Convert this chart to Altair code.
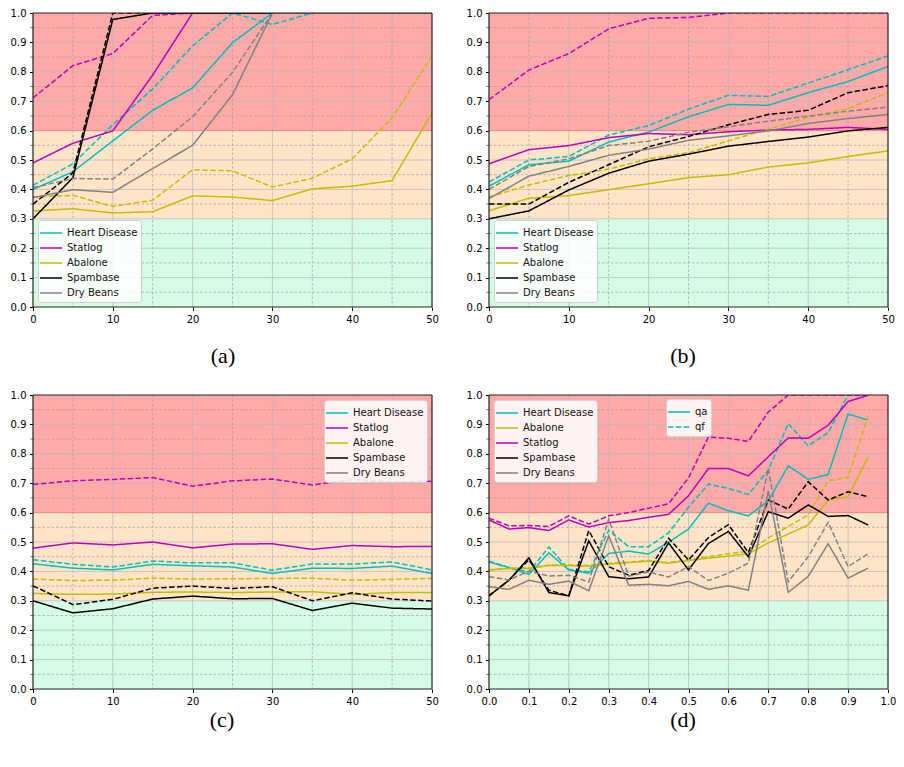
import altair as alt
import pandas as pd

W, H = 399, 294

NAMES = ["Heart Disease", "Statlog", "Abalone", "Spambase", "Dry Beans"]
COLORS = {"Heart Disease": "#00bfbf", "Statlog": "#bf00bf", "Abalone": "#bfbf00",
          "Spambase": "#000000", "Dry Beans": "#808080"}
ORDER_D = ["Heart Disease", "Abalone", "Statlog", "Spambase", "Dry Beans"]

X_ABC = [0, 5, 10, 15, 20, 25, 30, 35, 40, 45, 50]
X_D = [0.0, 0.05, 0.1, 0.15, 0.2, 0.25, 0.3, 0.35, 0.4, 0.45, 0.5,
       0.55, 0.6, 0.65, 0.7, 0.75, 0.8, 0.85, 0.9, 0.95]

# panel (a)
a_hd_qa = [0.400, 0.460, 0.565, 0.669, 0.745, 0.899, 1.0, 1.0, 1.0, 1.0, 1.0]
a_hd_qf = [0.414, 0.487, 0.620, 0.742, 0.888, 1.0, 0.961, 1.0, 1.0, 1.0, 1.0]
a_st_qa = [0.490, 0.557, 0.599, 0.789, 1.0, 1.0, 1.0, 1.0, 1.0, 1.0, 1.0]
a_st_qf = [0.711, 0.821, 0.862, 0.992, 1.0, 1.0, 1.0, 1.0, 1.0, 1.0, 1.0]
a_ab_qa = [0.327, 0.334, 0.320, 0.324, 0.378, 0.374, 0.362, 0.402, 0.411, 0.430, 0.660]
a_ab_qf = [0.374, 0.380, 0.342, 0.363, 0.467, 0.463, 0.408, 0.438, 0.504, 0.643, 0.854]
a_sp_qa = [0.300, 0.440, 0.978, 1.0, 1.0, 1.0, 1.0, 1.0, 1.0, 1.0, 1.0]
a_sp_qf = [0.350, 0.456, 1.0, 1.0, 1.0, 1.0, 1.0, 1.0, 1.0, 1.0, 1.0]
a_db_qa = [0.372, 0.399, 0.390, 0.471, 0.550, 0.722, 1.0, 1.0, 1.0, 1.0, 1.0]
a_db_qf = [0.406, 0.437, 0.435, 0.538, 0.647, 0.798, 1.0, 1.0, 1.0, 1.0, 1.0]

# panel (b)
b_hd_qa = [0.411, 0.484, 0.496, 0.561, 0.595, 0.647, 0.689, 0.686, 0.729, 0.767, 0.818]
b_hd_qf = [0.425, 0.500, 0.512, 0.585, 0.617, 0.673, 0.720, 0.716, 0.762, 0.807, 0.854]
b_st_qa = [0.487, 0.535, 0.549, 0.576, 0.590, 0.586, 0.596, 0.602, 0.604, 0.611, 0.604]
b_st_qf = [0.705, 0.806, 0.862, 0.946, 0.982, 0.985, 1.0, 1.0, 1.0, 1.0, 1.0]
b_ab_qa = [0.327, 0.370, 0.379, 0.399, 0.419, 0.440, 0.450, 0.476, 0.490, 0.512, 0.531]
b_ab_qf = [0.374, 0.415, 0.447, 0.469, 0.504, 0.525, 0.565, 0.605, 0.645, 0.675, 0.729]
b_sp_qa = [0.300, 0.327, 0.398, 0.455, 0.496, 0.520, 0.547, 0.563, 0.578, 0.599, 0.611]
b_sp_qf = [0.350, 0.350, 0.424, 0.484, 0.545, 0.580, 0.620, 0.655, 0.669, 0.729, 0.753]
b_db_qa = [0.369, 0.445, 0.478, 0.516, 0.537, 0.567, 0.582, 0.599, 0.624, 0.641, 0.655]
b_db_qf = [0.400, 0.478, 0.504, 0.549, 0.564, 0.594, 0.613, 0.632, 0.649, 0.666, 0.680]

# panel (c)
c_hd_qa = [0.426, 0.411, 0.405, 0.424, 0.419, 0.415, 0.393, 0.411, 0.410, 0.418, 0.393]
c_hd_qf = [0.440, 0.424, 0.415, 0.435, 0.429, 0.429, 0.404, 0.425, 0.425, 0.432, 0.405]
c_st_qa = [0.479, 0.497, 0.490, 0.500, 0.480, 0.493, 0.494, 0.475, 0.488, 0.484, 0.485]
c_st_qf = [0.696, 0.708, 0.713, 0.719, 0.690, 0.708, 0.714, 0.694, 0.712, 0.704, 0.707]
c_ab_qa = [0.325, 0.322, 0.323, 0.329, 0.330, 0.328, 0.330, 0.331, 0.322, 0.328, 0.328]
c_ab_qf = [0.374, 0.369, 0.370, 0.377, 0.374, 0.375, 0.376, 0.377, 0.370, 0.373, 0.376]
c_sp_qa = [0.300, 0.259, 0.273, 0.306, 0.316, 0.307, 0.308, 0.267, 0.292, 0.275, 0.272]
c_sp_qf = [0.351, 0.287, 0.305, 0.343, 0.350, 0.342, 0.348, 0.300, 0.327, 0.306, 0.299]

# panel (d)
d_hd_qa = [0.432, 0.413, 0.390, 0.463, 0.405, 0.394, 0.461, 0.469, 0.459, 0.499, 0.544,
           0.632, 0.606, 0.589, 0.640, 0.759, 0.713, 0.730, 0.935, 0.915]
d_hd_qf = [0.435, 0.413, 0.398, 0.483, 0.407, 0.398, 0.540, 0.484, 0.484, 0.531, 0.618,
           0.697, 0.682, 0.662, 0.744, 0.903, 0.827, 0.872, 1.0, 1.0]
d_st_qa = [0.575, 0.544, 0.549, 0.539, 0.575, 0.551, 0.566, 0.573, 0.584, 0.594, 0.657,
           0.750, 0.750, 0.725, 0.790, 0.854, 0.853, 0.897, 0.978, 0.999]
d_st_qf = [0.581, 0.555, 0.556, 0.553, 0.589, 0.561, 0.589, 0.600, 0.615, 0.630, 0.718,
           0.857, 0.853, 0.842, 0.942, 1.0, 1.0, 1.0, 1.0, 1.0]
d_ab_qa = [0.405, 0.410, 0.410, 0.420, 0.420, 0.418, 0.425, 0.430, 0.435, 0.428, 0.437,
           0.445, 0.452, 0.460, 0.497, 0.527, 0.558, 0.643, 0.654, 0.789]
d_ab_qf = [0.405, 0.410, 0.412, 0.422, 0.422, 0.420, 0.427, 0.432, 0.437, 0.430, 0.440,
           0.450, 0.460, 0.468, 0.514, 0.553, 0.592, 0.708, 0.721, 0.927]
d_sp_qa = [0.317, 0.370, 0.446, 0.328, 0.317, 0.504, 0.382, 0.375, 0.381, 0.497, 0.405,
           0.495, 0.536, 0.450, 0.603, 0.581, 0.626, 0.587, 0.590, 0.558]
d_sp_qf = [0.317, 0.370, 0.440, 0.336, 0.317, 0.539, 0.416, 0.387, 0.403, 0.513, 0.439,
           0.515, 0.559, 0.464, 0.643, 0.612, 0.705, 0.643, 0.671, 0.654]
d_db_qa = [0.348, 0.339, 0.370, 0.356, 0.367, 0.334, 0.521, 0.353, 0.356, 0.351, 0.366,
           0.339, 0.351, 0.336, 0.673, 0.329, 0.383, 0.494, 0.377, 0.411]
d_db_qf = [0.382, 0.371, 0.401, 0.384, 0.387, 0.364, 0.578, 0.384, 0.398, 0.381, 0.416,
           0.369, 0.394, 0.428, 0.750, 0.365, 0.450, 0.567, 0.416, 0.460]

BAND_LO = [0.0, 0.3, 0.6]
BAND_HI = [0.3, 0.6, 1.0]
BAND_COL = ["#d5fce5", "#ffe4c8", "#ffa9a9"]

Y_MAJOR = [0.1, 0.2, 0.3, 0.4, 0.5, 0.6, 0.7, 0.8, 0.9]
Y_MINOR = [0.05, 0.15, 0.25, 0.35, 0.45, 0.55, 0.65, 0.75, 0.85, 0.95]
Y_TICKS = [0.0, 0.1, 0.2, 0.3, 0.4, 0.5, 0.6, 0.7, 0.8, 0.9, 1.0]
X_TICKS_ABC = [0, 10, 20, 30, 40, 50]
X_MAJOR_ABC = [10, 20, 30, 40]
X_MINOR_ABC = [5, 15, 25, 35, 45]
X_TICKS_D = [0.0, 0.1, 0.2, 0.3, 0.4, 0.5, 0.6, 0.7, 0.8, 0.9, 1.0]
X_MAJOR_D = [0.1, 0.2, 0.3, 0.4, 0.5, 0.6, 0.7, 0.8, 0.9]


def long_df(x, series):
    rows = []
    for name, qa, qf in series:
        for xi, v in zip(x, qa):
            rows.append({"x": xi, "y": v, "dataset": name, "kind": "qa"})
        for xi, v in zip(x, qf):
            rows.append({"x": xi, "y": v, "dataset": name, "kind": "qf"})
    return pd.DataFrame(rows)


df_a = long_df(X_ABC, [("Heart Disease", a_hd_qa, a_hd_qf), ("Statlog", a_st_qa, a_st_qf),
                       ("Abalone", a_ab_qa, a_ab_qf), ("Spambase", a_sp_qa, a_sp_qf),
                       ("Dry Beans", a_db_qa, a_db_qf)])
df_b = long_df(X_ABC, [("Heart Disease", b_hd_qa, b_hd_qf), ("Statlog", b_st_qa, b_st_qf),
                       ("Abalone", b_ab_qa, b_ab_qf), ("Spambase", b_sp_qa, b_sp_qf),
                       ("Dry Beans", b_db_qa, b_db_qf)])
df_c = long_df(X_ABC, [("Heart Disease", c_hd_qa, c_hd_qf), ("Statlog", c_st_qa, c_st_qf),
                       ("Abalone", c_ab_qa, c_ab_qf), ("Spambase", c_sp_qa, c_sp_qf)])
df_d = long_df(X_D, [("Heart Disease", d_hd_qa, d_hd_qf), ("Abalone", d_ab_qa, d_ab_qf),
                     ("Statlog", d_st_qa, d_st_qf), ("Spambase", d_sp_qa, d_sp_qf),
                     ("Dry Beans", d_db_qa, d_db_qf)])

bands_df = pd.DataFrame({"lo": BAND_LO, "hi": BAND_HI, "c": BAND_COL})

SYMBOL_PATH = "M-1.3,0H1.3"
LEGEND_STYLE = dict(title=None, symbolType=SYMBOL_PATH, symbolSize=289, symbolStrokeWidth=1.5,
                    labelFontSize=10, labelFont="DejaVu Sans", labelColor="#111",
                    fillColor="rgba(255,255,255,0.85)", strokeColor="#d0d0d0",
                    padding=3.5, cornerRadius=3, rowPadding=0, labelOffset=6.5)


def panel(df, xdom, xticks, xmajor, xminor, xfmt, caption, cap_offset, cap_dx, order,
          legend_pos, dash_legend=False):
    xs = alt.Scale(domain=xdom, nice=False, zero=False)
    ys = alt.Scale(domain=[0, 1], nice=False)
    xa = alt.Axis(values=xticks, format=xfmt, labelFlush=False, labelOverlap=False,
                  grid=False, domain=False, title=None)
    ya = alt.Axis(values=Y_TICKS, format=".1f", labelFlush=False, labelOverlap=False,
                  grid=False, domain=False, title=None)
    bands = alt.Chart(bands_df).mark_rect().encode(
        x=alt.value(0), x2=alt.value(W),
        y=alt.Y("lo:Q", scale=ys, axis=ya), y2="hi:Q",
        fill=alt.Fill("c:N", scale=None, legend=None))
    hmaj = alt.Chart(pd.DataFrame({"v": Y_MAJOR})).mark_rule(
        color="#b8b8b8", strokeWidth=1, opacity=0.75).encode(y=alt.Y("v:Q", scale=ys, axis=ya))
    hmin = alt.Chart(pd.DataFrame({"v": Y_MINOR})).mark_rule(
        color="#a0a0a0", strokeWidth=0.9, strokeDash=[2.5, 2], opacity=0.8).encode(
        y=alt.Y("v:Q", scale=ys, axis=ya))
    vmaj = alt.Chart(pd.DataFrame({"v": xmajor})).mark_rule(
        color="#b8b8b8", strokeWidth=1, opacity=0.75).encode(x=alt.X("v:Q", scale=xs, axis=xa))
    layers = [bands, hmaj, hmin, vmaj]
    if xminor:
        vmin = alt.Chart(pd.DataFrame({"v": xminor})).mark_rule(
            color="#a0a0a0", strokeWidth=0.9, strokeDash=[2.5, 2], opacity=0.8).encode(
            x=alt.X("v:Q", scale=xs, axis=xa))
        layers.append(vmin)
    edge = alt.Chart(pd.DataFrame({"v": [0.6]})).mark_rule(
        color="#ee8888", strokeWidth=1).encode(y=alt.Y("v:Q", scale=ys, axis=ya))
    layers.append(edge)

    leg = alt.Legend(**LEGEND_STYLE, **legend_pos)
    if dash_legend:
        dleg = alt.Legend(title=None, symbolType=SYMBOL_PATH, symbolSize=289, symbolStrokeWidth=1.5,
                          symbolStrokeColor="#00bfbf", labelFontSize=10, labelFont="DejaVu Sans",
                          labelColor="#111", fillColor="rgba(255,255,255,0.85)",
                          strokeColor="#d0d0d0", padding=3.5, cornerRadius=3, rowPadding=0,
                          labelOffset=6.5, orient="none", legendX=177, legendY=4)
    else:
        dleg = None
    lines = alt.Chart(df).mark_line(strokeWidth=1.5, clip=True).encode(
        x=alt.X("x:Q", scale=xs, axis=xa),
        y=alt.Y("y:Q", scale=ys, axis=ya),
        color=alt.Color("dataset:N", scale=alt.Scale(domain=order, range=[COLORS[n] for n in order]),
                        legend=leg),
        strokeDash=alt.StrokeDash("kind:N", scale=alt.Scale(domain=["qa", "qf"],
                                                            range=[[1, 0], [5.5, 2.4]]),
                                  legend=dleg),
    )
    layers.append(lines)
    fx = alt.Chart(pd.DataFrame({"v": xdom})).mark_rule(color="#222", strokeWidth=1.2).encode(
        x=alt.X("v:Q", scale=xs, axis=xa))
    fy = alt.Chart(pd.DataFrame({"v": [0.0, 1.0]})).mark_rule(color="#222", strokeWidth=1.2).encode(
        y=alt.Y("v:Q", scale=ys, axis=ya))
    minor_ticks = alt.Chart(pd.DataFrame({"v": Y_MINOR, "x0": [xdom[0]] * len(Y_MINOR)})).mark_tick(
        orient="horizontal", size=2.5, thickness=0.8, color="#000", xOffset=-1.25).encode(
        x=alt.X("x0:Q", scale=xs, axis=xa), y=alt.Y("v:Q", scale=ys, axis=ya))
    layers += [fx, fy, minor_ticks]
    return alt.layer(*layers).properties(
        width=W, height=H,
        title=alt.TitleParams(caption, orient="bottom", font="Liberation Serif", fontSize=22,
                              fontWeight="normal", color="#000", offset=cap_offset, dx=cap_dx,
                              anchor="middle"))


pa = panel(df_a, [0, 50], X_TICKS_ABC, X_MAJOR_ABC, X_MINOR_ABC, "d", "(a)", 22, -9.5, NAMES,
           dict(orient="bottom-left", offset=5))
pb = panel(df_b, [0, 50], X_TICKS_ABC, X_MAJOR_ABC, X_MINOR_ABC, "d", "(b)", 22, -5.5, NAMES,
           dict(orient="bottom-left", offset=5))
pc = panel(df_c, [0, 50], X_TICKS_ABC, X_MAJOR_ABC, X_MINOR_ABC, "d", "(c)", 4, -10.5, NAMES,
           dict(orient="top-right", offset=5))
pd_ = panel(df_d, [0, 1], X_TICKS_D, X_MAJOR_D, None, ".1f", "(d)", 4, -5.5, ORDER_D,
            dict(orient="top-left", offset=5), dash_legend=True)

chart = alt.concat(pa, pb, pc, pd_, columns=2, spacing={"row": 88, "column": 57},
                   bounds="flush").resolve_scale(
    x="independent", y="independent", color="independent", strokeDash="independent",
    fill="independent").resolve_legend(color="independent", strokeDash="independent").properties(
    padding={"left": 2, "top": 0, "right": 0, "bottom": 2}
).configure_view(stroke=None).configure_axis(
    labelFont="DejaVu Sans", labelFontSize=10, labelColor="#000", tickColor="#000",
    tickSize=3.5, labelPadding=3.5, tickWidth=1)

chart.save("out.html", embed_options={"renderer": "svg", "actions": False})
